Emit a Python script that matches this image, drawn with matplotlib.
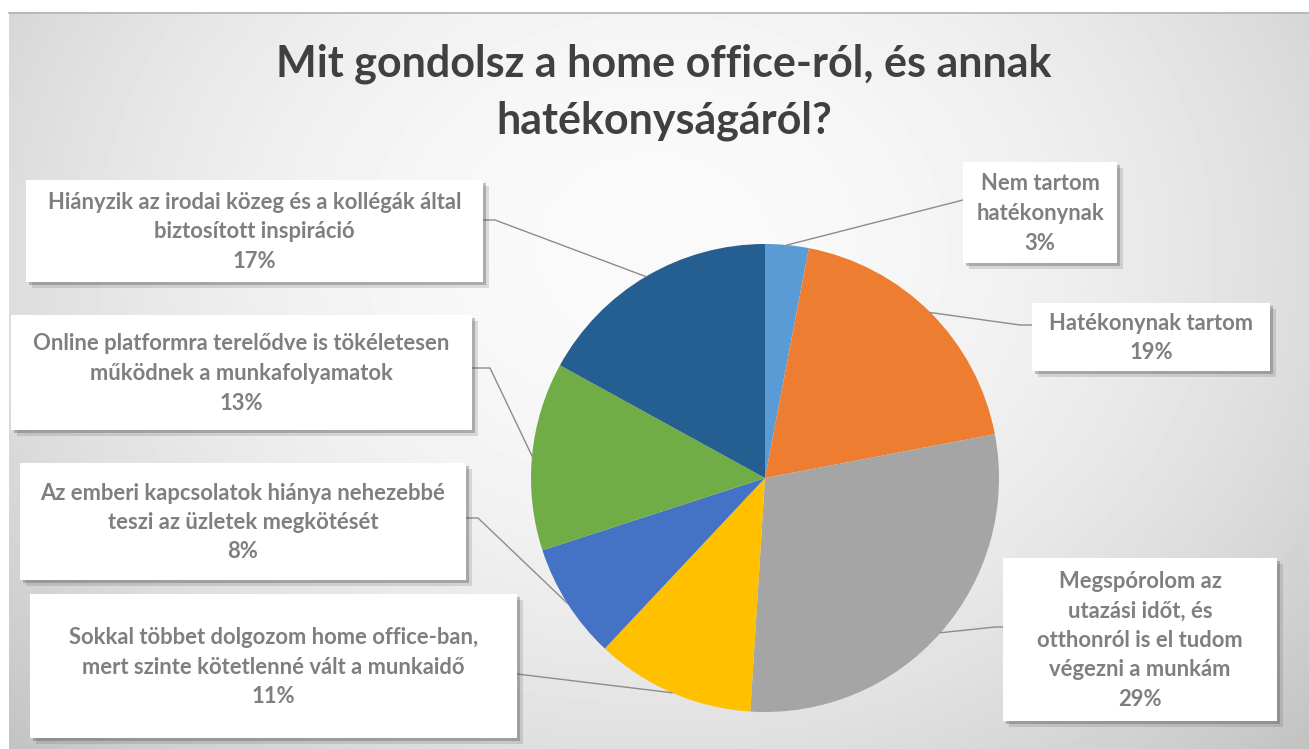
import numpy as np
import matplotlib
matplotlib.use("Agg")
import matplotlib.pyplot as plt
import matplotlib.patheffects as pe
from matplotlib.patches import Rectangle

# ---- data ----
labels = [
    "Nem tartom\nhatékonynak",
    "Hatékonynak tartom",
    "Megspórolom az\nutazási időt, és\notthonról is el tudom\nvégezni a munkám",
    "Sokkal többet dolgozom home office-ban,\nmert szinte kötetlenné vált a munkaidő",
    "Az emberi kapcsolatok hiánya nehezebbé\nteszi az üzletek megkötését",
    "Online platformra terelődve is tökéletesen\nműködnek a munkafolyamatok",
    "Hiányzik az irodai közeg és a kollégák által\nbiztosított inspiráció",
]
shares = [3, 19, 29, 11, 8, 13, 17]
colors = ["#5B9BD5", "#ED7D31", "#A5A5A5", "#FFC000", "#4472C4", "#70AD47", "#255E91"]
title = "Mit gondolsz a home office-ról, és annak\nhatékonyságáról?"

# ---- layout (pixel coords, y measured from top) ----
W, H = 1309, 749
boxes = [  # x0, y0, x1, y1
    (963, 162, 1117, 263),
    (1032, 303, 1270, 371),
    (1003, 558, 1277, 721),
    (30, 594, 517, 738),
    (20, 463, 466, 580),
    (11, 315, 472, 430),
    (26, 180, 483, 282),
]
# where each leader leaves its box (extra bend point first)
leader_start = [
    [(963, 200)],
    [(1032, 325), (1020, 325)],
    [(1003, 627), (995, 627)],
    [(517, 674)],
    [(466, 518), (478, 518)],
    [(472, 368), (490, 368)],
    [(483, 220), (495, 220)],
]
pie_cx, pie_cy, pie_r = 765, 478, 234

def P(x, y):
    return x, H - y

fig = plt.figure(figsize=(W / 100, H / 100), dpi=100)
ax = fig.add_axes([0, 0, 1, 1])

# background: soft radial grey gradient inside a frame
yy, xx = np.mgrid[0:H - 12, 9:W]
yy = yy + 12
d2 = ((xx - 655) / 800.0) ** 2 + ((yy - 250) / 650.0) ** 2
shade = np.clip(250 - 45 * d2, 185, 252) / 255.0
ax.imshow(shade, cmap="gray", vmin=0, vmax=1, extent=(9, W, 0, H - 12),
          origin="upper", zorder=0, interpolation="bilinear")
ax.plot([9, W], [H - 12.5, H - 12.5], color="#b4b4b4", lw=1.2, zorder=1)

# pie
wedges, _ = ax.pie(shares, colors=colors, startangle=90, counterclock=False,
                   center=P(pie_cx, pie_cy), radius=pie_r,
                   wedgeprops=dict(linewidth=0), frame=True)
for w in wedges:
    w.set_zorder(2)

ax.set_xlim(0, W)
ax.set_ylim(0, H)
ax.set_aspect("auto")
ax.axis("off")

shadow = [pe.SimplePatchShadow(offset=(4, -4), shadow_rgbFace="#555555", alpha=0.18),
          pe.SimplePatchShadow(offset=(2.2, -2.2), shadow_rgbFace="#444444", alpha=0.3),
          pe.Normal()]

for w, lab, val, (x0, y0, x1, y1), start in zip(wedges, labels, shares, boxes, leader_start):
    mid = np.deg2rad((w.theta1 + w.theta2) / 2)
    cx, cy = w.center
    ex, ey = cx + w.r * np.cos(mid), cy + w.r * np.sin(mid)
    pts = [P(*p) for p in start] + [(ex, ey)]
    ax.plot([p[0] for p in pts], [p[1] for p in pts], color="#8c8c8c", lw=1.0, zorder=3)

    bx0, by0 = P(x0, y1)
    rect = Rectangle((bx0, by0), x1 - x0, y1 - y0, facecolor="white",
                     edgecolor="none", zorder=4)
    rect.set_path_effects(shadow)
    ax.add_patch(rect)
    ax.text((x0 + x1) / 2, H - (y0 + y1) / 2 - 1, f"{lab}\n{val}%", ha="center", va="center",
            fontsize=15.8, fontweight="bold", color="#7f7f7f", family="Lato",
            linespacing=1.5, zorder=5)

ax.text(664, H - 92, title, ha="center", va="center", fontsize=31, fontweight="bold",
        color="#404040", family="Lato", linespacing=1.5, zorder=5)

fig.savefig("out.png", dpi=100)
